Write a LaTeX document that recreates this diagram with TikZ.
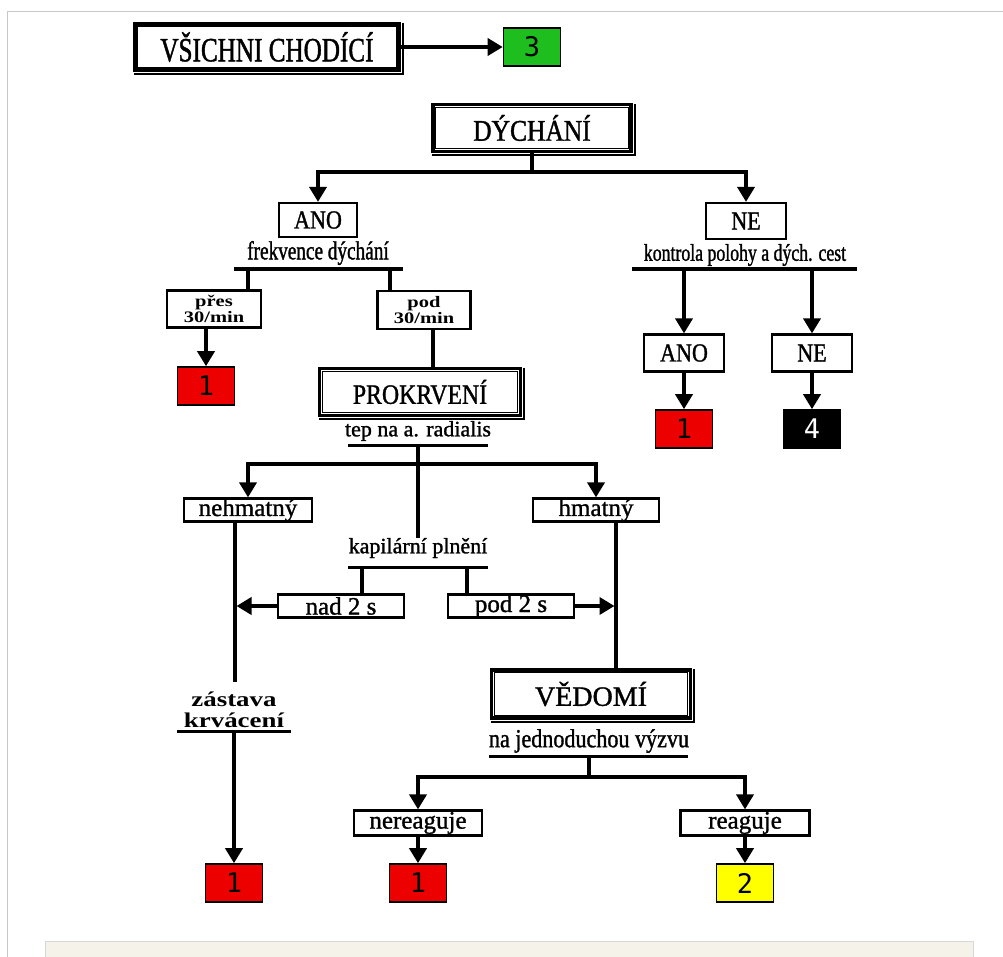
\documentclass[tikz,border=0pt]{standalone}
\usepackage{fontspec}
\setmainfont[FakeBold=1.2]{Liberation Serif}
\newfontfamily\tnrc[FakeStretch=0.74,FakeBold=1.2]{Liberation Serif}
\newfontfamily\tnrm[FakeStretch=0.85,FakeBold=1.2]{Liberation Serif}
\newfontfamily\tnrw[FakeStretch=1.28]{Liberation Serif}
\newfontfamily\digits{DejaVu Sans Mono}
\usetikzlibrary{arrows.meta}
\newcommand{\fs}[1]{\fontsize{#1}{#1}\selectfont}

\definecolor{triagered}{RGB}{236,0,0}
\definecolor{triagegreen}{RGB}{30,190,30}
\definecolor{triageyellow}{RGB}{255,255,0}
\definecolor{framegray}{RGB}{200,200,200}
\definecolor{bandbeige}{RGB}{244,242,233}

\tikzset{
  bigbox/.style={draw, line width=3.5pt, inner sep=0pt, fill=white},
  smallbox/.style={draw, line width=2.2pt, inner sep=0pt, fill=white},
  tag/.style={draw, line width=1.6pt, inner sep=0pt, minimum width=57pt, minimum height=38pt},
  link/.style={line width=3.6pt},
  arr/.style={link, -{Triangle[length=15pt,width=17pt]}},
  txt/.style={inner sep=0pt},
}

\begin{document}
\begin{tikzpicture}[x=1pt,y=-1pt]
        \useasboundingbox (0,0) rectangle (1003,957);
        \fill[white] (0,0) rectangle (1003,957);
        \draw[framegray, line width=1pt] (7,957) -- (7,11.5) -- (1003,11.5);
        \fill[bandbeige] (45,941) rectangle (973,957);
        \draw[framegray!70, line width=0.6pt] (45,957) -- (45,941) -- (973,941) -- (973,957);

        \node[bigbox, minimum width=264pt, minimum height=46pt] (vsichni) at (267,47) {\tnrc\fs{34}VŠICHNI CHODÍCÍ};
        \node[tag, fill=triagegreen] (three) at (532,47) {\digits\fs{27}3};
        \draw[arr] (vsichni) -- (three);

        \node[bigbox, minimum width=198pt, minimum height=47pt] (dych) at (532,128) {\tnrm\fs{30}DÝCHÁNÍ};
        \node[smallbox, minimum width=78pt, minimum height=34pt] (ano1) at (318,220) {\tnrm\fs{26}ANO};
        \node[smallbox, minimum width=80pt, minimum height=36pt] (ne1) at (746,221) {\tnrm\fs{26}NE};
        \coordinate (dj) at (532,172);
        \draw[link] (dych.south) -- (dj);
        \draw[arr] (dj) -| (ano1.north);
        \draw[arr] (dj) -| (ne1.north);

        \node[txt] (ftext) at (318,253) {\tnrc\fs{26}frekvence dýchání};
        \coordinate (f1) at (234,269);
        \coordinate (f2) at (403,269);
        \draw[link] (f1) -- (f2);
        \node[smallbox, minimum width=94pt, minimum height=37pt, align=center, font=\tnrw\bfseries\fs{16}] (pres) at (214,309) {přes\\30/min};
        \node[smallbox, minimum width=93pt, minimum height=38pt, align=center, font=\tnrw\bfseries\fs{16}] (pod) at (424,310) {pod\\30/min};
        \draw[link] ([xshift=34pt]pres.north) -- ([xshift=34pt]pres.north |- f1);
        \draw[link] ([xshift=-34pt]pod.north) -- ([xshift=-34pt]pod.north |- f1);
        \node[tag, fill=triagered] (red1) at (206,386) {\digits\fs{27}1};
        \draw[arr] (red1.north |- pres.south) -- (red1.north);

        \node[bigbox, minimum width=201pt, minimum height=47pt] (prokr) at (420,392) {\tnrm\fs{28}PROKRVENÍ};
        \draw[link] ([xshift=9pt]pod.south) -- ([xshift=9pt]pod.south |- prokr.north);
        \node[txt] (tep) at (418,431) {\fs{22}tep na a. radialis};
        \coordinate (t1) at (348,445);
        \coordinate (t2) at (488,445);
        \coordinate (tm) at (418,445);
        \coordinate (tj) at (418,464);
        \draw[line width=3pt] (t1) -- (t2);

        \node[txt, font=\tnrc\fs{24}] (kontr) at (745,255) {kontrola polohy a dých. cest};
        \coordinate (k1) at (632,269);
        \coordinate (k2) at (857,269);
        \draw[link] (k1) -- (k2);
        \node[smallbox, minimum width=80pt, minimum height=37pt] (ano2) at (684,353) {\tnrm\fs{26}ANO};
        \node[smallbox, minimum width=80pt, minimum height=37pt] (ne2) at (812,353) {\tnrm\fs{26}NE};
        \draw[arr] (ano2.north |- k1) -- (ano2.north);
        \draw[arr] (ne2.north |- k1) -- (ne2.north);
        \node[tag, fill=triagered] (red2) at (684,429) {\digits\fs{27}1};
        \node[tag, fill=black, text=white] (black4) at (812,429) {\digits\fs{27}4};
        \draw[arr] (ano2.south) -- (red2.north);
        \draw[arr] (ne2.south) -- (black4.north);

        \node[smallbox, minimum width=128pt, minimum height=23pt] (nehm) at (248,510) {\fs{25}nehmatný};
        \node[smallbox, minimum width=126pt, minimum height=23pt] (hmat) at (596,510) {\fs{25}hmatný};
        \node[txt] (kapil) at (418,548) {\fs{22}kapilární plnění};
        \draw[link] (tm) -- (kapil.north);
        \draw[arr] (tj) -| (nehm.north);
        \draw[arr] (tj) -| (hmat.north);
        \coordinate (c1) at (348,567);
        \coordinate (c2) at (488,567);
        \coordinate (cn) at (362,567);
        \coordinate (cp) at (467,567);
        \draw[line width=3pt] (c1) -- (c2);
        \node[smallbox, minimum width=126pt, minimum height=23pt] (nad) at (341,606) {\fs{25}nad 2 s};
        \node[smallbox, minimum width=126pt, minimum height=23pt] (pod2) at (511,606) {\fs{25}pod 2 s};
        \draw[link] (cn) -- (cn |- nad.north);
        \draw[link] (cp) -- (cp |- pod2.north);

        % levá větev
        \coordinate (lv) at (235,682);
        \draw[link] (lv |- nehm.south) -- (lv);
        \draw[arr] (nad.west) -- ([xshift=1.5pt]nad.west -| lv);
        \node[txt, align=center, font=\tnrw\bfseries\fs{21}] (zast) at (234,710) {zástava\\krvácení};
        \coordinate (z1) at (177,731);
        \coordinate (z2) at (291,731);
        \coordinate (zm) at (234,731);
        \draw[line width=3pt] (z1) -- (z2);
        \node[tag, fill=triagered] (red3) at (234,883) {\digits\fs{27}1};
        \draw[arr] (zm) -- (red3.north);

        % pravá větev
        \node[bigbox, minimum width=199pt, minimum height=48pt] (vedomi) at (591,694) {\fs{28}VĚDOMÍ};
        \coordinate (rv) at (616,0);
        \draw[link] (hmat.south -| rv) -- (vedomi.north -| rv);
        \draw[arr] (pod2.east) -- ([xshift=-1.5pt]pod2.east -| rv);
        \node[txt, font=\tnrm\fs{26}] (vyzva) at (589,741) {na jednoduchou výzvu};
        \coordinate (v1) at (489,756);
        \coordinate (v2) at (688,756);
        \coordinate (vm) at (589,756);
        \coordinate (vj) at (589,777);
        \draw[line width=3pt] (v1) -- (v2);
        \draw[link] (vm) -- (vj);
        \node[smallbox, minimum width=128pt, minimum height=25pt] (nereag) at (418,823) {\fs{25}nereaguje};
        \node[smallbox, minimum width=129pt, minimum height=25pt] (reag) at (745,823) {\fs{25}reaguje};
        \draw[arr] (vj) -| (nereag.north);
        \draw[arr] (vj) -| (reag.north);
        \node[tag, fill=triagered] (red4) at (418,883) {\digits\fs{27}1};
        \node[tag, fill=triageyellow] (yellow2) at (745,883) {\digits\fs{27}2};
        \draw[arr] (nereag.south) -- (red4.north);
        \draw[arr] (reag.south) -- (yellow2.north);

        \foreach \n in {vsichni,dych,prokr,vedomi} {
        \draw[line width=1.2pt] ([shift={(4.5,4.5)}]\n.north west) rectangle ([shift={(-4.5,-4.5)}]\n.south east);
        \draw[line width=2pt] ([shift={(1,2.2)}]\n.south west) -- ([shift={(2.2,2.2)}]\n.south east) -- ([shift={(2.2,1)}]\n.north east);
        }
\end{tikzpicture}
\end{document}
